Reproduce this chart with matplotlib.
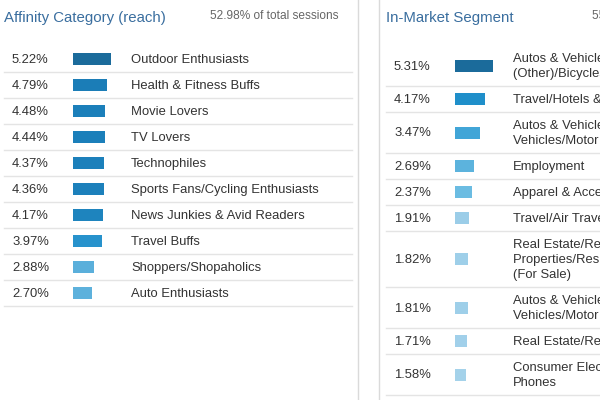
#!/usr/bin/env python3

import matplotlib
matplotlib.use("Agg")
import matplotlib.pyplot as plt

# left widget: affinity categories
affinity_title = "Affinity Category (reach)"
affinity_share = "52.98% of total sessions"
affinity_labels = [
    "Outdoor Enthusiasts",
    "Health & Fitness Buffs",
    "Movie Lovers",
    "TV Lovers",
    "Technophiles",
    "Sports Fans/Cycling Enthusiasts",
    "News Junkies & Avid Readers",
    "Travel Buffs",
    "Shoppers/Shopaholics",
    "Auto Enthusiasts",
]
affinity_values = [5.22, 4.79, 4.48, 4.44, 4.37, 4.36, 4.17, 3.97, 2.88, 2.70]

# right widget: in-market segments
market_title = "In-Market Segment"
market_share = "55.21% of total sessions"
market_labels = [
    "Autos & Vehicles/Motor Vehicles\n(Other)/Bicycles & Accessories",
    "Travel/Hotels & Accommodations",
    "Autos & Vehicles/Motor\nVehicles/Motor Vehicles (Used)",
    "Employment",
    "Apparel & Accessories",
    "Travel/Air Travel",
    "Real Estate/Residential\nProperties/Residential Properties\n(For Sale)",
    "Autos & Vehicles/Motor\nVehicles/Motor Vehicles (New)",
    "Real Estate/Residential Properties",
    "Consumer Electronics/Mobile\nPhones",
]
market_values = [5.31, 4.17, 3.47, 2.69, 2.37, 1.91, 1.82, 1.81, 1.71, 1.58]

affinity_colors = ["#1b6b9b", "#1b7db7", "#1b7fba", "#1b7fba", "#1c80bb",
                   "#1c80bb", "#1e84be", "#2792cc", "#5aafdb", "#5db1dc"]
market_colors = ["#1b6b9b", "#1f8fca", "#41a5d7", "#5cb3dd", "#6bbce2",
                 "#9bcde8", "#9ecfe9", "#9ecfe9", "#a1d0ea", "#a4d2ea"]

TEXT = "#333333"
TITLE = "#3a6e9f"
GREY = "#666666"
RULE = "#e4e4e4"

plt.rcParams['font.family'] = ['Liberation Sans', 'DejaVu Sans']


def row_centers(labels, top):
    # single line row is 26px high, each extra line adds 15px
    centers, bottoms = [], []
    y = top
    for lab in labels:
        h = 26 + 15 * (lab.count("\n"))
        centers.append(y + h / 2)
        bottoms.append(y + h)
        y += h
    return centers, bottoms


def panel(fig, ax, x0, x1, title, share, share_x, labels, values, colors, top):
    ax.text(x0 + 4, 18, title, color=TITLE, fontsize=10.8, va="center")
    ax.text(share_x, 16, share, color=GREY, fontsize=8.6, va="center")
    centers, bottoms = row_centers(labels, top)
    for lab, v, yc, yb in zip(labels, values, centers, bottoms):
        ax.text(x0 + 12, yc + 1, "%.2f%%" % v, color=TEXT, fontsize=9.4,
                va="center")
        ax.text(x0 + 131, yc + 1, lab, color=TEXT, fontsize=9.4, va="center",
                linespacing=1.32)
        ax.plot([x0 + 4, x1], [yb, yb], color=RULE, lw=1)
    # bars in their own axes so widths come from the values
    bx = fig.add_axes([(x0 + 73) / 600, 0, 72 / 600, 1])
    bx.set_xlim(0, 10)
    bx.set_ylim(400, 0)
    bx.axis("off")
    bx.barh(centers, values, height=12, color=colors, left=0)


def main():
    fig = plt.figure(figsize=(6, 4), dpi=100)
    ax = fig.add_axes([0, 0, 1, 1])
    ax.set_xlim(0, 600)
    ax.set_ylim(400, 0)
    ax.axis("off")

    ax.plot([358, 358], [0, 400], color="#dadada", lw=1)
    ax.plot([379, 379], [0, 400], color="#dadada", lw=1)

    panel(fig, ax, 0, 352, affinity_title, affinity_share, 210,
          affinity_labels, affinity_values, affinity_colors, 46)
    panel(fig, ax, 382, 600, market_title, market_share, 592,
          market_labels, market_values, market_colors, 45)

    fig.savefig("out.png", dpi=100)
    plt.close(fig)


if __name__ == '__main__':
    main()
